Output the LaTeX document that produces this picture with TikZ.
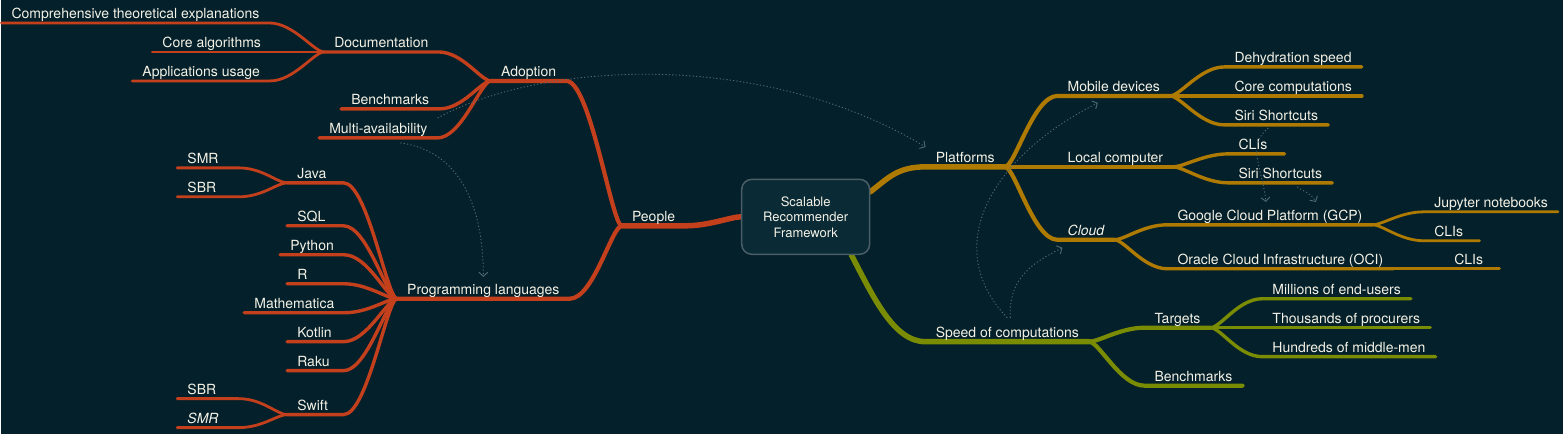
\documentclass[tikz,border=0pt]{standalone}
\usepackage{fontspec}
\setmainfont{TeX Gyre Heros}
\usetikzlibrary{arrows.meta, backgrounds}
\definecolor{bgcol}{RGB}{4,32,42}
\definecolor{redbr}{RGB}{196,64,28}
\definecolor{goldbr}{RGB}{174,122,2}
\definecolor{greenbr}{RGB}{122,139,4}
\definecolor{txtcol}{RGB}{244,242,230}
\definecolor{linkcol}{RGB}{82,106,114}
\definecolor{rootfill}{RGB}{10,42,53}
\definecolor{rootline}{RGB}{74,94,102}

\tikzset{
  topic/.style={anchor=south west, inner xsep=10pt, inner ysep=1.5pt, text height=10pt, text depth=2.5pt, text=txtcol, font=\fontsize{14}{16}\selectfont},
  fixw/.style={text width=#1, align=left},
  rootbox/.style={draw=rootline, fill=rootfill, line width=1.5pt, rounded corners=10pt, minimum width=128pt, minimum height=75pt, align=center, text=txtcol, font=\fontsize{13}{15.5}\selectfont},
  lbranch/.style={to path={.. controls +(-10,0) and +(24,0) .. (\tikztotarget)}},
  rbranch/.style={to path={.. controls +(10,0) and +(-24,0) .. (\tikztotarget)}},
  lv1/.style={line width=5.5pt, line cap=round},
  lv2/.style={line width=4.2pt, line cap=round},
  lv3/.style={line width=3.4pt, line cap=round},
  lv4/.style={line width=2.8pt, line cap=round},
  link/.style={draw=linkcol, line width=0.9pt, dash pattern=on 1.2pt off 2.2pt, -{Straight Barb[length=4pt, width=9pt]}},
}

\begin{document}
\begin{tikzpicture}[x=1pt, y=-1pt]
  \begin{scope}[on background layer]
    \path[use as bounding box, fill=bgcol] (0,0) rectangle (1563,434);
  \end{scope}

  % centre
  \node[rootbox] (root) at (805,217) {Scalable\\Recommender\\Framework};

  % left side
  \node[topic] (people) at (621,226) {People};
  \node[topic] (adopt) at (490,81) {Adoption};
  \node[topic] (proglang) at (396,299) {Programming languages};
  \node[topic] (docu) at (323,52) {Documentation};
  \node[topic] (benchl) at (340,109) {Benchmarks};
  \node[topic] (multi) at (318,138) {Multi-availability};
  \node[topic] (theory) at (0,23) {Comprehensive theoretical explanations};
  \node[topic] (corealg) at (151,52) {Core algorithms};
  \node[topic] (appuse) at (131,81) {Applications usage};
  \node[topic, fixw=36pt] (java) at (286,183) {Java};
  \node[topic, fixw=41pt] (jsmr) at (176,168) {SMR};
  \node[topic, fixw=41pt] (jsbr) at (176,197) {SBR};
  \node[topic, fixw=36pt] (sql) at (286,226) {SQL};
  \node[topic] (python) at (279,255) {Python};
  \node[topic, fixw=36pt] (rlang) at (286,284) {R};
  \node[topic] (mathem) at (243,313) {Mathematica};
  \node[topic, fixw=36pt] (kotlin) at (286,342) {Kotlin};
  \node[topic, fixw=36pt] (raku) at (286,371) {Raku};
  \node[topic, fixw=36pt] (swift) at (286,415) {Swift};
  \node[topic, fixw=41pt] (ssbr) at (176,399) {SBR};
  \node[topic, fixw=41pt] (ssmr) at (176,428) {\itshape SMR};

  % right side
  \node[topic] (platf) at (925,167) {Platforms};
  \node[topic] (speed) at (925,342) {Speed of computations};
  \node[topic] (mobile) at (1057,96) {Mobile devices};
  \node[topic] (local) at (1057,167) {Local computer};
  \node[topic] (cloud) at (1057,240) {\itshape Cloud};
  \node[topic] (dehyd) at (1224,67) {Dehydration speed};
  \node[topic] (corecomp) at (1224,96) {Core computations};
  \node[topic] (siri1) at (1224,125) {Siri Shortcuts};
  \node[topic, fixw=36pt] (clis1) at (1228,154) {CLIs};
  \node[topic] (siri2) at (1228,183) {Siri Shortcuts};
  \node[topic] (gcp) at (1167,225) {Google Cloud Platform (GCP)};
  \node[topic] (oci) at (1167,269) {Oracle Cloud Infrastructure (OCI)};
  \node[topic] (jupyter) at (1424,212) {Jupyter notebooks};
  \node[topic, fixw=35pt] (clis2) at (1424,241) {CLIs};
  \node[topic, fixw=35pt] (clis3) at (1444,269) {CLIs};
  \node[topic] (targets) at (1144,328) {Targets};
  \node[topic] (benchr) at (1144,386) {Benchmarks};
  \node[topic] (millions) at (1262,299) {Millions of end-users};
  \node[topic] (thousands) at (1262,328) {Thousands of procurers};
  \node[topic] (hundreds) at (1262,357) {Hundreds of middle-men};

  \begin{scope}[on background layer]
    % people branch
    \draw[redbr, lv1] (root.west) to[lbranch] (people.south east) -- (people.south west);
    \draw[redbr, lv2] (people.south west) to[lbranch] (adopt.south east) -- (adopt.south west);
    \draw[redbr, lv2] (people.south west) to[lbranch] (proglang.south east) -- (proglang.south west);
    \draw[redbr, lv3] (adopt.south west) to[lbranch] (docu.south east) -- (docu.south west);
    \draw[redbr, lv3] (adopt.south west) to[lbranch] (benchl.south east) -- (benchl.south west);
    \draw[redbr, lv3] (adopt.south west) to[lbranch] (multi.south east) -- (multi.south west);
    \draw[redbr, lv4] (docu.south west) to[lbranch] (theory.south east) -- (theory.south west);
    \draw[redbr, lv4] (docu.south west) to[lbranch] (corealg.south east) -- (corealg.south west);
    \draw[redbr, lv4] (docu.south west) to[lbranch] (appuse.south east) -- (appuse.south west);
    \draw[redbr, lv3] (proglang.south west) to[lbranch] (java.south east) -- (java.south west);
    \draw[redbr, lv3] (proglang.south west) to[lbranch] (sql.south east) -- (sql.south west);
    \draw[redbr, lv3] (proglang.south west) to[lbranch] (python.south east) -- (python.south west);
    \draw[redbr, lv3] (proglang.south west) to[lbranch] (rlang.south east) -- (rlang.south west);
    \draw[redbr, lv3] (proglang.south west) to[lbranch] (mathem.south east) -- (mathem.south west);
    \draw[redbr, lv3] (proglang.south west) to[lbranch] (kotlin.south east) -- (kotlin.south west);
    \draw[redbr, lv3] (proglang.south west) to[lbranch] (raku.south east) -- (raku.south west);
    \draw[redbr, lv3] (proglang.south west) to[lbranch] (swift.south east) -- (swift.south west);
    \draw[redbr, lv4] (java.south west) to[lbranch] (jsmr.south east) -- (jsmr.south west);
    \draw[redbr, lv4] (java.south west) to[lbranch] (jsbr.south east) -- (jsbr.south west);
    \draw[redbr, lv4] (swift.south west) to[lbranch] (ssbr.south east) -- (ssbr.south west);
    \draw[redbr, lv4] (swift.south west) to[lbranch] (ssmr.south east) -- (ssmr.south west);

    % platforms branch
    \draw[goldbr, lv1] ([yshift=25pt]root.east) .. controls +(18,-14) and +(-28,0) .. (platf.south west) -- (platf.south east);
    \draw[goldbr, lv2] (platf.south east) to[rbranch] (mobile.south west) -- (mobile.south east);
    \draw[goldbr, lv2] (platf.south east) to[rbranch] (local.south west) -- (local.south east);
    \draw[goldbr, lv2] (platf.south east) to[rbranch] (cloud.south west) -- (cloud.south east);
    \draw[goldbr, lv3] (mobile.south east) to[rbranch] (dehyd.south west) -- (dehyd.south east);
    \draw[goldbr, lv3] (mobile.south east) to[rbranch] (corecomp.south west) -- (corecomp.south east);
    \draw[goldbr, lv3] (mobile.south east) to[rbranch] (siri1.south west) -- (siri1.south east);
    \draw[goldbr, lv3] (local.south east) to[rbranch] (clis1.south west) -- (clis1.south east);
    \draw[goldbr, lv3] (local.south east) to[rbranch] (siri2.south west) -- (siri2.south east);
    \draw[goldbr, lv3] (cloud.south east) to[rbranch] (gcp.south west) -- (gcp.south east);
    \draw[goldbr, lv3] (cloud.south east) to[rbranch] (oci.south west) -- (oci.south east);
    \draw[goldbr, lv4] (gcp.south east) to[rbranch] (jupyter.south west) -- (jupyter.south east);
    \draw[goldbr, lv4] (gcp.south east) to[rbranch] (clis2.south west) -- (clis2.south east);
    \draw[goldbr, lv4] (oci.south east) to[rbranch] (clis3.south west) -- (clis3.south east);

    % speed branch
    \draw[greenbr, lv1] ([xshift=-19pt]root.south east) .. controls +(22,42) and +(-32,0) .. (speed.south west) -- (speed.south east);
    \draw[greenbr, lv2] (speed.south east) to[rbranch] (targets.south west) -- (targets.south east);
    \draw[greenbr, lv2] (speed.south east) to[rbranch] (benchr.south west) -- (benchr.south east);
    \draw[greenbr, lv3] (targets.south east) to[rbranch] (millions.south west) -- (millions.south east);
    \draw[greenbr, lv3] (targets.south east) to[rbranch] (thousands.south west) -- (thousands.south east);
    \draw[greenbr, lv3] (targets.south east) to[rbranch] (hundreds.south west) -- (hundreds.south east);
  \end{scope}

  % cross links
  \draw[link] ([xshift=22pt, yshift=-5pt]multi.south) .. controls +(60,8) and +(0,-70) .. ([yshift=6pt]proglang.north);
  \draw[link] ([yshift=4pt]multi.north east) .. controls +(102,-56) and +(-165,-99) .. ([yshift=4pt]platf.north west);
  \draw[link] ([yshift=8pt]speed.north) .. controls +(-65,-67) and +(-113,57) .. ([xshift=-16pt, yshift=-7pt]mobile.south);
  \draw[link] ([xshift=3pt, yshift=8pt]speed.north) .. controls +(-2,-40) and +(-30,15) .. ([xshift=5pt, yshift=-8pt]cloud.south west);
  \draw[link] ([xshift=-8pt, yshift=-3pt]siri1.south) .. controls +(-22,18) and +(-4,-35) .. ([xshift=-4pt, yshift=7pt]gcp.north);
  \draw[link] ([xshift=17pt, yshift=-4pt]siri2.south) .. controls +(8,6) and +(-6,-10) .. ([xshift=46pt, yshift=7pt]gcp.north);
\end{tikzpicture}
\end{document}
